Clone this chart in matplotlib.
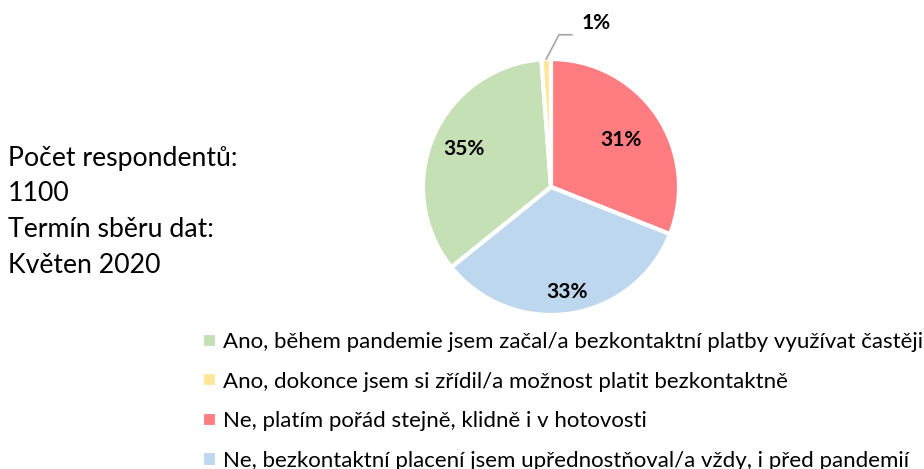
import numpy as np
import matplotlib
matplotlib.use("Agg")
import matplotlib.pyplot as plt

# answers in legend order
labels = [
    "Ano, během pandemie jsem začal/a bezkontaktní platby využívat častěji",
    "Ano, dokonce jsem si zřídil/a možnost platit bezkontaktně",
    "Ne, platím pořád stejně, klidně i v hotovosti",
    "Ne, bezkontaktní placení jsem upřednostňoval/a vždy, i před pandemií",
]
shares = [34.6, 1.2, 31.0, 33.2]
colors = ["#C5E0B4", "#FFE699", "#FF7C80", "#BDD7EE"]
info_lines = ["Počet respondentů:", "1100", "Termín sběru dat:", "Květen 2020"]

plt.rcParams["font.family"] = ["Lato", "DejaVu Sans"]

W, H = 924, 469
fig = plt.figure(figsize=(W / 100, H / 100), dpi=100)

# pie axes placed in pixel terms: centre (551, 187), radius 128
cx, cy, r = 551, 187, 128
ax = fig.add_axes([(cx - r) / W, (H - cy - r) / H, 2 * r / W, 2 * r / H])

# clockwise, so the green slice must start where yellow+green end above the top
start = 90 + (shares[0] + shares[1]) / 100 * 360
wedges, _ = ax.pie(
    shares,
    colors=colors,
    startangle=start,
    counterclock=False,
    radius=1.0,
    wedgeprops=dict(edgecolor="white", linewidth=3),
)
# pie() pads the limits, reset them so the pie fills the axes
ax.set_xlim(-1, 1)
ax.set_ylim(-1, 1)
ax.set_aspect("equal")
ax.axis("off")

# percentage labels, each at its own distance from the centre
label_dist = [0.74, None, 0.66, 0.83]
for w, val, d in zip(wedges, shares, label_dist):
    if d is None:
        continue
    mid = np.deg2rad((w.theta1 + w.theta2) / 2)
    ax.text(d * np.cos(mid), d * np.sin(mid), f"{val:.0f}%",
            ha="center", va="center", fontsize=15, fontweight="bold")

# the thin yellow slice gets an outside label with a leader line
yw = wedges[1]
mid = np.deg2rad((yw.theta1 + yw.theta2) / 2)
x0, y0 = np.cos(mid), np.sin(mid)
ax.plot([x0, x0 + 0.1, x0 + 0.2], [y0, y0 + 0.19, y0 + 0.19],
        color="#a6a6a6", linewidth=1.2, clip_on=False)
ax.text(x0 + 0.39, y0 + 0.28, f"{shares[1]:.0f}%", ha="center", va="center",
        fontsize=15, fontweight="bold")

# respondent info on the left, one line at a time
for i, line in enumerate(info_lines):
    fig.text(8 / W, 1 - (158 + 35.7 * i) / H, line, ha="left", va="center",
             fontsize=19.2)

fig.legend(
    wedges, labels,
    loc="upper left", bbox_to_anchor=(202 / W, 1 - 332 / H),
    frameon=False, fontsize=16,
    handlelength=0.68, handleheight=0.68, handletextpad=0.25,
    labelspacing=0.88, borderpad=0, borderaxespad=0,
)

fig.savefig("out.png", dpi=100)
